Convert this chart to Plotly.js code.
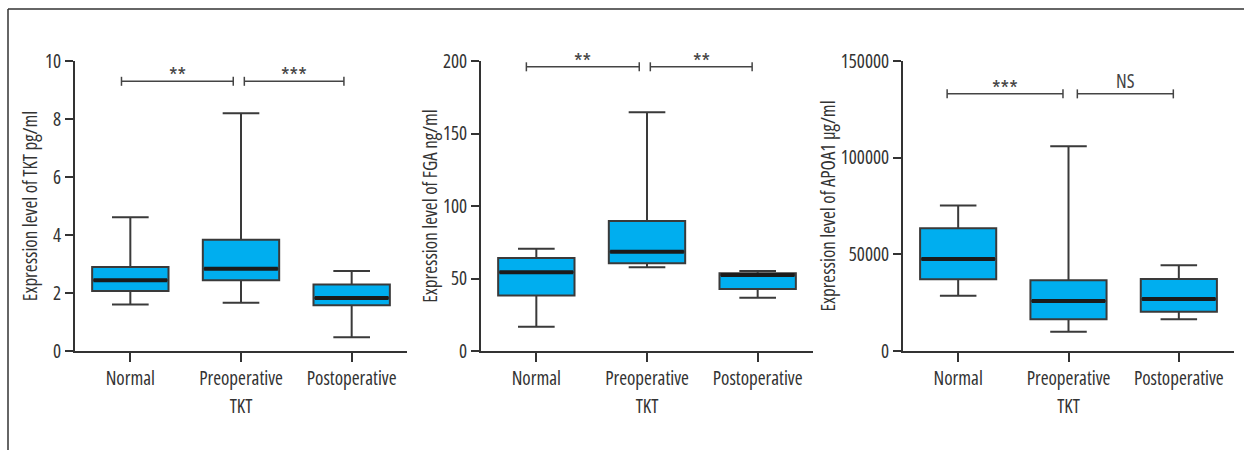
<!DOCTYPE html>
<html>
<head>
<meta charset="utf-8">
<script src="https://cdn.plot.ly/plotly-3.0.1.min.js"></script>
<style>html,body{margin:0;padding:0;background:#fff;}#chart{width:1244px;height:450px;}svg text{font-stretch:condensed;}</style>
</head>
<body>
<div id="chart"></div>
<script>
// ---- data ----
const categories = ["Normal", "Preoperative", "Postoperative"];
const groupTitle = "TKT";

// Panel 1: TKT (pg/ml)
const tktLower  = [1.60, 1.66, 0.47];
const tktQ1     = [2.07, 2.44, 1.58];
const tktMedian = [2.44, 2.84, 1.83];
const tktQ3     = [2.90, 3.84, 2.29];
const tktUpper  = [4.61, 8.20, 2.76];
const tktSig    = ["**", "***"];

// Panel 2: FGA (ng/ml)
const fgaLower  = [16.8, 57.7, 36.8];
const fgaQ1     = [38.2, 60.5, 42.8];
const fgaMedian = [54.3, 68.5, 52.4];
const fgaQ3     = [64.1, 89.7, 53.6];
const fgaUpper  = [70.6, 164.6, 55.2];
const fgaSig    = ["**", "**"];

// Panel 3: APOA1 (µg/ml)
const apoLower  = [28600, 10000, 16400];
const apoQ1     = [37100, 16400, 20300];
const apoMedian = [47600, 25900, 26900];
const apoQ3     = [63500, 36600, 37200];
const apoUpper  = [75200, 105900, 44300];
const apoSig    = ["***", "NS"];

const yTitles = ["Expression level of TKT pg/ml", "Expression level of FGA ng/ml", "Expression level of APOA1 µg/ml"];

// ---- styling / layout config ----
const FONT = "'Open Sans', 'Roboto Condensed', sans-serif";
const FS = 19;
const TEXT = "#333333";
const W = 1244, H = 450;
const BOXW = 0.69;
const panels = [
  {lo: tktLower, q1: tktQ1, med: tktMedian, q3: tktQ3, hi: tktUpper, sig: tktSig,
   range: [0, 10], dtick: 2, fmt: "", px: [75, 407], brY: 9.3,
   brX: [[-0.08, 0.93], [1.03, 1.93]], standoff: 2},
  {lo: fgaLower, q1: fgaQ1, med: fgaMedian, q3: fgaQ3, hi: fgaUpper, sig: fgaSig,
   range: [0, 200], dtick: 50, fmt: "", px: [481, 813], brY: 196,
   brX: [[-0.09, 0.93], [1.03, 1.95]], standoff: 0},
  {lo: apoLower, q1: apoQ1, med: apoMedian, q3: apoQ3, hi: apoUpper, sig: apoSig,
   range: [0, 150000], dtick: 50000, fmt: "d", px: [903, 1234], brY: 133000,
   brX: [[-0.1, 0.95], [1.08, 1.95]], standoff: 0}
];
const yTopPx = 61, yBotPx = 351;

const traces = [];
const shapes = [];
const annotations = [];
const layout = {
  width: W, height: H,
  margin: {l: 0, r: 0, t: 0, b: 0},
  paper_bgcolor: "#fff", plot_bgcolor: "rgba(0,0,0,0)",
  showlegend: false, hovermode: false,
  font: {family: FONT, size: FS, color: TEXT}
};

const xs = categories.map((c, i) => i);

panels.forEach((p, k) => {
  const sfx = k === 0 ? "" : String(k + 1);
  const xa = "x" + sfx, ya = "y" + sfx;
  traces.push({
    type: "box", xaxis: xa, yaxis: ya,
    x: xs, q1: p.q1, median: p.med, q3: p.q3,
    lowerfence: p.lo, upperfence: p.hi,
    boxpoints: false, width: BOXW, whiskerwidth: 0.48,
    fillcolor: "#00AEEF",
    line: {color: "#3a3a3a", width: 2}
  });
  // thick median bars
  const mx = [], my = [];
  xs.forEach((x, i) => { mx.push(x - BOXW / 2 + 0.012, x + BOXW / 2 - 0.012, null); my.push(p.med[i], p.med[i], null); });
  traces.push({type: "scatter", mode: "lines", xaxis: xa, yaxis: ya, x: mx, y: my,
    line: {color: "#1b1b1b", width: 4}, hoverinfo: "skip"});
  // significance brackets
  const span = p.range[1] - p.range[0];
  const d = span / (yBotPx - yTopPx) * 4.5;
  p.brX.forEach((b, j) => {
    traces.push({type: "scatter", mode: "lines", xaxis: xa, yaxis: ya,
      x: [b[0], b[0], null, b[0], b[1], null, b[1], b[1]],
      y: [p.brY - d, p.brY + d, null, p.brY, p.brY, null, p.brY - d, p.brY + d],
      line: {color: "#444", width: 1.5}, hoverinfo: "skip"});
    const isStar = p.sig[j].indexOf("*") >= 0;
    annotations.push({xref: xa, yref: ya, x: (b[0] + b[1]) / 2, y: p.brY,
      yanchor: "bottom", yshift: isStar ? -10 : -2, text: p.sig[j], showarrow: false,
      font: {family: FONT, size: isStar ? 22 : FS, color: "#444"}});
  });
  layout["xaxis" + sfx] = {
    domain: [p.px[0] / W, p.px[1] / W], anchor: ya,
    range: [-0.5, 2.5], tickvals: xs, ticktext: categories,
    showgrid: false, zeroline: false, showline: true, linecolor: "#333", linewidth: 2,
    ticks: "outside", ticklen: 9, tickwidth: 2, tickcolor: "#333",
    tickfont: {family: FONT, size: FS, color: TEXT},
    title: {text: groupTitle, font: {family: FONT, size: FS, color: TEXT}, standoff: 10}
  };
  layout["yaxis" + sfx] = {
    domain: [(H - yBotPx) / H, (H - yTopPx) / H], anchor: xa,
    range: p.range, dtick: p.dtick, tick0: 0, tickformat: p.fmt,
    showgrid: false, zeroline: false, showline: true, linecolor: "#333", linewidth: 2,
    ticks: "outside", ticklen: 8, tickwidth: 2, tickcolor: "#333",
    tickfont: {family: FONT, size: FS, color: TEXT},
    title: {text: yTitles[k], font: {family: FONT, size: FS, color: TEXT}, standoff: p.standoff}
  };
});

// outer frame (top and left rules)
shapes.push({type: "line", xref: "paper", yref: "paper", x0: 8 / W, x1: 1, y0: (H - 9) / H, y1: (H - 9) / H, line: {color: "#333", width: 1.5}});
shapes.push({type: "line", xref: "paper", yref: "paper", x0: 8 / W, x1: 8 / W, y0: 0, y1: (H - 9) / H, line: {color: "#333", width: 1.5}});
layout.shapes = shapes;
layout.annotations = annotations;

Plotly.newPlot("chart", traces, layout, {displayModeBar: false, staticPlot: true});
</script>
</body>
</html>
